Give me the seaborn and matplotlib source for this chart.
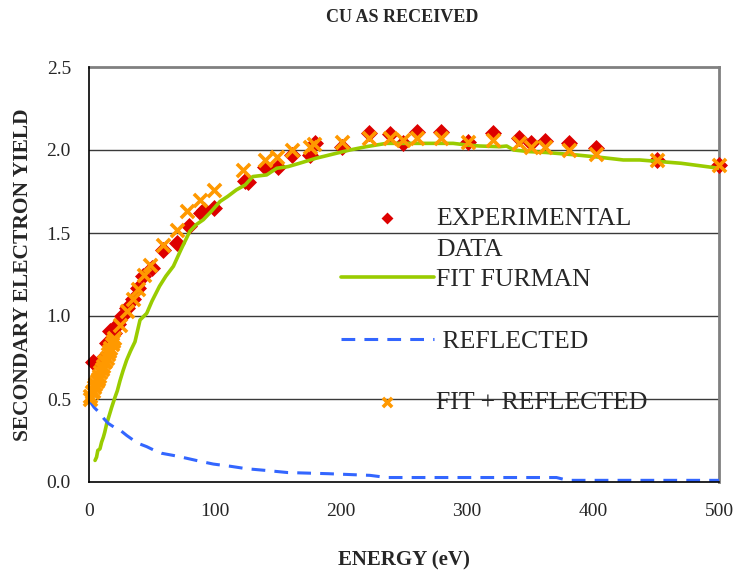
import matplotlib
matplotlib.use("Agg")
import matplotlib.pyplot as plt
from matplotlib.lines import Line2D
import seaborn as sns

# ---- data ----
exp_energy = [3, 10, 14, 17, 20, 23, 26, 30, 35, 39, 43, 50, 59, 70, 79, 89, 91, 99,
              124, 126, 140, 150, 161, 175, 179, 201, 222, 239, 249.5, 260.6, 279,
              301, 321, 341.5, 351, 362, 381, 402, 451, 500]
exp_yield = [0.72, 0.74, 0.84, 0.91, 0.90, 0.95, 1.00, 1.05, 1.10, 1.17, 1.24, 1.29,
             1.40, 1.44, 1.54, 1.62, 1.64, 1.65, 1.815, 1.81, 1.895, 1.90, 1.97, 1.97,
             2.04, 2.02, 2.10, 2.095, 2.04, 2.11, 2.11, 2.05, 2.10, 2.075, 2.04, 2.055,
             2.04, 2.01, 1.94, 1.91]

fit_energy = [4.8, 6, 7, 8.7, 10, 11.4, 12.5, 14, 16, 18, 20.6, 22.5, 24.6, 27, 29.9,
              33, 36.5, 40.5, 45.8, 50, 56, 61, 67, 73, 80, 85, 90.7, 97, 104, 110,
              117, 124, 130, 141, 149, 158, 167, 180, 194, 207, 220, 236, 261, 289,
              300, 310, 326, 331.5, 337, 350, 363, 387, 405.5, 424, 437, 470, 500]
fit_yield = [0.13, 0.15, 0.19, 0.20, 0.24, 0.27, 0.30, 0.35, 0.40, 0.45, 0.51, 0.55,
             0.61, 0.67, 0.735, 0.79, 0.845, 0.976, 1.016, 1.09, 1.18, 1.24, 1.30,
             1.40, 1.51, 1.55, 1.58, 1.63, 1.69, 1.72, 1.76, 1.79, 1.84, 1.85, 1.89,
             1.90, 1.92, 1.95, 1.976, 2.00, 2.02, 2.04, 2.04, 2.04, 2.03, 2.024, 2.02,
             2.024, 2.00, 1.99, 1.985, 1.97, 1.956, 1.94, 1.94, 1.92, 1.89]

refl_energy = [0, 4, 8.7, 12, 15.3, 20, 24.6, 30, 35, 40, 45.8, 52, 57.7, 67, 77.5,
               88, 98.7, 112, 125, 140, 157.5, 190, 223, 236.5, 300, 340, 371, 380,
               440, 500]
refl_yield = [0.494, 0.45, 0.414, 0.38, 0.353, 0.33, 0.313, 0.28, 0.253, 0.23, 0.213,
              0.19, 0.173, 0.16, 0.143, 0.125, 0.108, 0.095, 0.08, 0.07, 0.057, 0.05,
              0.04, 0.027, 0.027, 0.027, 0.027, 0.01, 0.01, 0.01]

sum_energy = [0.5, 1, 2, 3, 4, 5, 6, 7, 8, 9, 10, 11, 12, 13, 14, 15, 16, 17, 18, 19,
              20, 24.6, 30, 35, 39, 44, 48.4, 59, 69.6, 78, 88, 99, 122.5, 140, 149,
              161, 175, 178.6, 201, 222.5, 239, 249.5, 260.6, 279, 301, 321, 341.5,
              351, 362, 381, 402, 451, 500]
sum_yield = [0.50, 0.52, 0.54, 0.55, 0.57, 0.59, 0.61, 0.62, 0.64, 0.66, 0.68, 0.70,
             0.72, 0.73, 0.75, 0.77, 0.79, 0.81, 0.83, 0.85, 0.87, 0.945, 1.03, 1.10,
             1.16, 1.25, 1.31, 1.43, 1.52, 1.63, 1.70, 1.76, 1.88, 1.94, 1.96, 2.00,
             2.02, 2.035, 2.05, 2.07, 2.07, 2.06, 2.07, 2.07, 2.05, 2.06, 2.04, 2.02,
             2.02, 2.00, 1.976, 1.94, 1.91]

x_ticks = [0, 100, 200, 300, 400, 500]
y_ticks = [0.0, 0.5, 1.0, 1.5, 2.0, 2.5]
title = "CU AS RECEIVED"
xlabel = "ENERGY (eV)"
ylabel = "SECONDARY ELECTRON YIELD"
labels = ["EXPERIMENTAL", "FIT FURMAN", " REFLECTED", "FIT + REFLECTED"]
label_cont = "DATA"

# ---- style ----
sns.set_style("white")
plt.rcParams['font.family'] = ['Liberation Serif', 'DejaVu Serif']

fig = plt.figure(figsize=(7.46, 5.72), dpi=100)
ax = fig.add_axes([89 / 746, 1 - 482 / 572, 630 / 746, 415 / 572])

RED = "#DD0000"
GREEN = "#99CC00"
BLUE = "#3366FF"
ORANGE = "#FF9900"

sns.scatterplot(x=exp_energy, y=exp_yield, marker="D", s=75, color=RED,
                edgecolor=RED, linewidth=0, ax=ax, label=labels[0], zorder=3)
sns.lineplot(x=fit_energy, y=fit_yield, color=GREEN, linewidth=2.6, ax=ax,
             label=labels[1], sort=False, estimator=None, zorder=4)
sns.lineplot(x=refl_energy, y=refl_yield, color=BLUE, linewidth=2.2, ax=ax,
             label=labels[2], sort=False, estimator=None, zorder=4)
ax.lines[-1].set_dashes([4.5, 3])
sns.scatterplot(x=sum_energy, y=sum_yield, marker="x", s=90, color=ORANGE,
                linewidth=2.6, ax=ax, label=labels[3], zorder=5)

for coll in ax.collections:
    coll.set_clip_on(False)

ax.set_xlim(0, 500)
ax.set_ylim(0, 2.5)
ax.set_xticks(x_ticks)
ax.set_yticks(y_ticks)
ax.set_yticklabels([f"{v:.1f}" for v in y_ticks])
ax.tick_params(axis="both", labelsize=14, direction="out", length=5,
               width=1, color="black", pad=8)
ax.tick_params(axis="x", pad=10)

for v in y_ticks[1:-1]:
    ax.axhline(v, color="#3a3a3a", linewidth=1.0, zorder=1)

for side in ["top", "right"]:
    ax.spines[side].set_color("#808080")
    ax.spines[side].set_linewidth(2)
for side in ["left", "bottom"]:
    ax.spines[side].set_color("black")
    ax.spines[side].set_linewidth(1.2)
    ax.spines[side].set_zorder(6)

ax.set_xlabel(xlabel, fontsize=15, fontweight="bold", labelpad=22)
ax.set_ylabel(ylabel, fontsize=15.5, fontweight="bold", labelpad=10)
fig.text(402 / 746, 1 - 17 / 572, title, fontsize=13, fontweight="bold",
         ha="center", va="center")

handles, lbls = ax.get_legend_handles_labels()
blank = Line2D([], [], linestyle="none")
leg_handles = [handles[0], blank, handles[1], blank, handles[2], blank, handles[3]]
leg_labels = [lbls[0], label_cont, lbls[1], " ", lbls[2], " ", lbls[3]]
leg = ax.legend(leg_handles, leg_labels, loc="upper left", bbox_to_anchor=(0.40, 0.663),
                frameon=False, fontsize=18.5, handlelength=3.6, handletextpad=0.1,
                labelspacing=0.3, borderpad=0, borderaxespad=0, markerscale=0.7)

fig.savefig("out.png", dpi=100)
